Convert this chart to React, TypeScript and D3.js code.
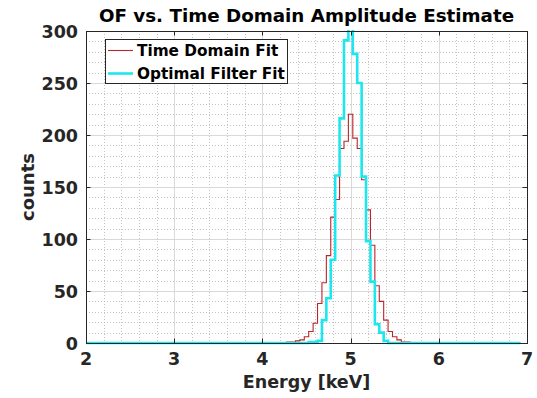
import React from "react";
import * as d3 from "d3";

const W = 537;
const H = 398;

const xTicks = [2, 3, 4, 5, 6, 7];
const yTicks = [0, 50, 100, 150, 200, 250, 300];

// histogram range (bin edges of the full histogram) and bin width, keV
const histRange = [1.975, 6.925];
const binWidth = 0.05;

// bin centres (keV) of the populated region
const binCenters = [
  4.25, 4.3, 4.35, 4.4, 4.45, 4.5, 4.55, 4.6, 4.65, 4.7, 4.75, 4.8, 4.85, 4.9, 4.95, 5.0,
  5.05, 5.1, 5.15, 5.2, 5.25, 5.3, 5.35, 5.4, 5.45, 5.5, 5.55, 5.6, 5.65, 5.7, 5.75,
];

const timeDomainCounts = [
  0, 1, 1, 2, 3, 6, 11, 19, 38, 58, 84, 121, 138, 187, 194, 220,
  197, 187, 157, 128, 94, 55, 40, 22, 11, 6, 3, 1, 1, 0, 0,
];

const optimalFilterCounts = [
  0, 0, 0, 0, 0, 0, 1, 1, 2, 22, 43, 80, 161, 216, 291, 312,
  278, 250, 160, 98, 59, 18, 10, 2, 0, 0, 0, 0, 0, 0, 0,
];

const seriesNames = ["Time Domain Fit", "Optimal Filter Fit"];
const seriesColors = ["#bb2428", "#1ee6ee"];

const FONT = "'DejaVu Sans', Verdana, sans-serif";
const AX = "#262626";

export default function App() {
  const x = d3.scaleLinear().domain([2, 7]).range([86, 527]);
  const y = d3.scaleLinear().domain([0, 300]).range([343, 31]);
  const [x0, x1] = x.range();
  const [yb, yt] = y.range();

  const xMinor = d3.range(2, 7.0001, 0.2).filter((v) => Math.abs(v - Math.round(v)) > 1e-6);
  const yMinor = d3.range(0, 300.001, 10).filter((v) => v % 50 !== 0);

  const stairs = (counts: number[]) => {
    const pts: [number, number][] = [[histRange[0], 0]];
    binCenters.forEach((c, i) => {
      pts.push([c - binWidth / 2, counts[i]]);
      pts.push([c + binWidth / 2, counts[i]]);
    });
    pts.push([histRange[1], 0]);
    return d3
      .line<[number, number]>()
      .x((d) => x(d[0]))
      .y((d) => y(d[1]))(pts) as string;
  };

  const px = (v: number) => Math.round(v) + 0.5;

  return (
    <svg
      width={W}
      height={H}
      style={{ position: "absolute", left: 0, top: 0, background: "#fff" }}
      fontFamily={FONT}
    >
      <defs>
        <clipPath id="plot">
          <rect x={x0} y={yt - 1} width={x1 - x0} height={yb - yt + 4} />
        </clipPath>
      </defs>
      <rect x={0} y={0} width={W} height={H} fill="#fff" />
      {/* minor grid */}
      {xMinor.map((v, i) => (
        <line key={"xm" + i} x1={px(x(v))} x2={px(x(v))} y1={yt} y2={yb} stroke="#c4c4c4" strokeWidth={1} strokeDasharray="1 2" />
      ))}
      {yMinor.map((v, i) => (
        <line key={"ym" + i} x1={x0} x2={x1} y1={px(y(v))} y2={px(y(v))} stroke="#c4c4c4" strokeWidth={1} strokeDasharray="1 2" />
      ))}
      {/* major grid */}
      {xTicks.map((v, i) => (
        <line key={"xg" + i} x1={px(x(v))} x2={px(x(v))} y1={yt} y2={yb} stroke="#d9d9d9" strokeWidth={1} />
      ))}
      {yTicks.map((v, i) => (
        <line key={"yg" + i} x1={x0} x2={x1} y1={px(y(v))} y2={px(y(v))} stroke="#d9d9d9" strokeWidth={1} />
      ))}

      {/* data */}
      <g clipPath="url(#plot)">
        <path d={stairs(timeDomainCounts)} fill="none" stroke={seriesColors[0]} strokeWidth={1.1} />
        <path d={stairs(optimalFilterCounts)} fill="none" stroke={seriesColors[1]} strokeWidth={2.6} />
      </g>

      {/* axes box */}
      <rect x={px(x0)} y={px(yt)} width={Math.round(x1) - Math.round(x0)} height={Math.round(yb) - Math.round(yt)} fill="none" stroke={AX} strokeWidth={1} />
      {xTicks.map((v, i) => (
        <g key={"xt" + i}>
          <line x1={px(x(v))} x2={px(x(v))} y1={yb} y2={yb - 4.5} stroke={AX} />
          <line x1={px(x(v))} x2={px(x(v))} y1={yt} y2={yt + 4.5} stroke={AX} />
          <text x={x(v)} y={365} textAnchor="middle" fontSize={17.5} fontWeight="bold" fill={AX}>
            {v}
          </text>
        </g>
      ))}
      {yTicks.map((v, i) => (
        <g key={"yt" + i}>
          <line x1={x0} x2={x0 + 4.5} y1={px(y(v))} y2={px(y(v))} stroke={AX} />
          <line x1={x1} x2={x1 - 4.5} y1={px(y(v))} y2={px(y(v))} stroke={AX} />
          <text x={78} y={y(v) + 6.5} textAnchor="end" fontSize={17.5} fontWeight="bold" fill={AX}>
            {v}
          </text>
        </g>
      ))}

      {/* labels */}
      <text x={(x0 + x1) / 2} y={22} textAnchor="middle" fontSize={18.3} fontWeight="bold" fill="#000">
        OF vs. Time Domain Amplitude Estimate
      </text>
      <text x={(x0 + x1) / 2} y={388} textAnchor="middle" fontSize={17.5} fontWeight="bold" fill={AX}>
        Energy [keV]
      </text>
      <text transform={`translate(33.5, ${(yt + yb) / 2}) rotate(-90)`} textAnchor="middle" fontSize={18} fontWeight="bold" fill={AX}>
        counts
      </text>

      {/* legend */}
      <rect x={105.5} y={39.5} width={182} height={44} fill="#fff" stroke={AX} strokeWidth={1} />
      {seriesNames.map((name, i) => (
        <g key={"lg" + i}>
          <line x1={108} x2={133} y1={50.5 + i * 23} y2={50.5 + i * 23} stroke={seriesColors[i]} strokeWidth={i === 0 ? 1.1 : 2.6} />
          <text x={137} y={56 + i * 23} fontSize={15.3} fontWeight="bold" fill="#000">
            {name}
          </text>
        </g>
      ))}
    </svg>
  );
}
